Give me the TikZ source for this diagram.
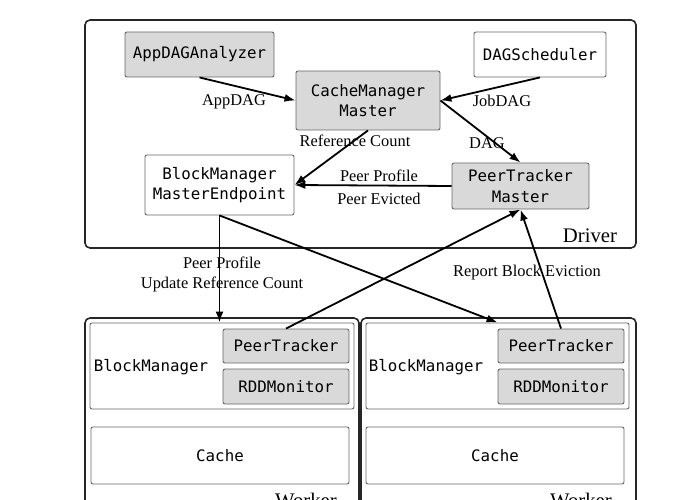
\documentclass[tikz,border=0pt]{standalone}
\usepackage{fontspec}
\setmainfont{Liberation Serif}
\setmonofont{DejaVu Sans Mono}
\usetikzlibrary{arrows.meta}
\definecolor{boxfill}{HTML}{D9D9D9}
\definecolor{boxline}{HTML}{666666}
\begin{document}
\begin{tikzpicture}[x=1pt,y=-1pt,
    box/.style={draw=boxline,line width=0.9pt,rounded corners=2pt,align=center,inner sep=0pt,
      font=\fontsize{15.8}{20.5}\selectfont\ttfamily},
    graybox/.style={box,fill=boxfill},
    lbl/.style={font=\fontsize{16.4}{20}\selectfont,align=center,inner sep=0pt},
    big/.style={font=\fontsize{20.7}{24}\selectfont,inner sep=0pt,anchor=base},
    outer/.style={draw=black!85,line width=1.6pt,rounded corners=5pt},
    conn/.style={-{Latex[length=11pt,width=8pt]},line width=1.8pt}]
    \useasboundingbox (0,0) rectangle (680,500);
    \clip (0,0) rectangle (680,500);
    % Driver
    \draw[outer] (85,20) rectangle (636,248);
    \node[big] (driver) at (590,242) {Driver};
    \node[graybox,minimum width=149pt,minimum height=45pt] (app) at (199.5,54.5) {AppDAGAnalyzer};
    \node[box,minimum width=132pt,minimum height=45pt] (dag) at (540,54.5) {DAGScheduler};
    \node[graybox,minimum width=144pt,minimum height=59pt] (cmm) at (368,100.5) {CacheManager\\Master};
    \node[box,minimum width=149pt,minimum height=60pt] (bmme) at (219.5,185) {BlockManager\\MasterEndpoint};
    \node[graybox,minimum width=137pt,minimum height=46pt] (ptm) at (520.5,186) {PeerTracker\\Master};
    % Workers
    \draw[outer] (85,318) rectangle (359,530);
    \draw[outer] (361,318) rectangle (636,530);
    \node[big] (wkL) at (306,507) {Worker};
    \node[big] (wkR) at (581,507) {Worker};
    \node[box,minimum width=264pt,minimum height=86pt] (bmL) at (222,366) {};
    \node[box,minimum width=263pt,minimum height=86pt] (bmR) at (497.5,366) {};
    \node[font=\fontsize{15.8}{20.5}\selectfont\ttfamily,inner sep=0pt] (bmtL) at (151,367) {BlockManager};
    \node[font=\fontsize{15.8}{20.5}\selectfont\ttfamily,inner sep=0pt] (bmtR) at (426,367) {BlockManager};
    \node[graybox,minimum width=126pt,minimum height=34pt] (ptL) at (286,346) {PeerTracker};
    \node[graybox,minimum width=126pt,minimum height=35pt] (rddL) at (286,386.5) {RDDMonitor};
    \node[graybox,minimum width=126pt,minimum height=34pt] (ptR) at (561,346) {PeerTracker};
    \node[graybox,minimum width=126pt,minimum height=35pt] (rddR) at (561,386.5) {RDDMonitor};
    \node[box,minimum width=258pt,minimum height=57pt] (cacheL) at (220,455.5) {Cache};
    \node[box,minimum width=258pt,minimum height=57pt] (cacheR) at (495,455.5) {Cache};
    % arrows
    \draw[conn] (app.south) -- (cmm.west);
    \draw[conn] (dag.south) -- (cmm.east);
    \draw[conn] (cmm.south) -- (bmme.east);
    \draw[conn] (cmm.east) -- (ptm.north);
    \draw[conn] (ptm.west) -- (bmme.east);
    \draw[conn] (bmme.south) -- (bmme.south |- bmL.north);
    \draw[conn] (bmme.south) -- (ptR.west |- bmR.north);
    \draw[conn] (ptL.north) -- (ptm.south);
    \draw[conn] (ptR.north) -- (ptm.south);
    % labels
    \node[lbl] (lApp) at (234,102) {AppDAG};
    \node[lbl] (lJob) at (502,101) {JobDAG};
    \node[lbl] (lRef) at (355,141) {Reference Count};
    \node[lbl] (lDag) at (487,143) {DAG};
    \node[lbl] (lProf) at (379,176) {Peer Profile};
    \node[lbl] (lEvic) at (379,199) {Peer Evicted};
    \node[lbl] (lUpd) at (222,274) {Peer Profile\\Update Reference Count};
    \node[lbl] (lRep) at (527,273) {Report Block Eviction};
\end{tikzpicture}
\end{document}
